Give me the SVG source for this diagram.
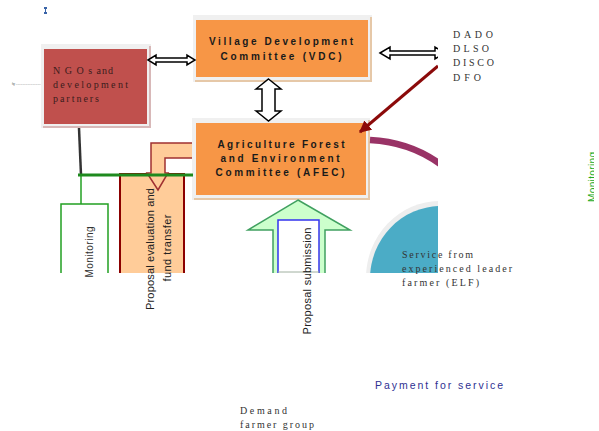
<svg xmlns="http://www.w3.org/2000/svg" width="599" height="431" viewBox="0 0 599 431">
<style>
.sans{font-family:"Liberation Sans",Arial,sans-serif}
.serif{font-family:"Liberation Serif","Times New Roman",serif}
.boxt{font-family:"Liberation Sans",Arial,sans-serif;font-weight:bold;font-size:10px;fill:#1a1a1a;text-anchor:middle}
.st{font-family:"Liberation Serif","Times New Roman",serif;font-size:10px;fill:#333}
.dbl{fill:#fff;stroke:#000;stroke-width:1.5;stroke-linejoin:miter}
.rot{font-family:"Liberation Sans",Arial,sans-serif;font-size:11px;fill:#222;text-anchor:middle}
</style>
<defs>
<clipPath id="clipR"><rect x="0" y="0" width="438" height="431"/></clipPath>
<clipPath id="clipB"><rect x="0" y="0" width="599" height="273"/></clipPath>
<clipPath id="clipRB"><rect x="0" y="0" width="438" height="273"/></clipPath>
<clipPath id="clipEdge"><rect x="0" y="0" width="594" height="431"/></clipPath>
<marker id="redHead" viewBox="0 0 10 10" refX="9" refY="5" markerWidth="4" markerHeight="4" orient="auto" markerUnits="strokeWidth">
<path d="M0,0 L10,5 L0,10 z" fill="#8B0A0A"/>
</marker>
</defs>
<rect width="599" height="431" fill="#fff"/>

<g id="icon">
<path d="M44,7 h3 v2 h-1 v3 h1 v2 h-3 v-2 h1 v-3 h-1 z" fill="#3a64a8"/>
</g>

<g id="caption-tiny">
<text x="12" y="84.5" class="sans" font-size="3.5" fill="#444" textLength="29" lengthAdjust="spacingAndGlyphs">fig: ------------------------------</text>
</g>

<g id="node-ngo">
<rect x="41" y="44" width="110" height="84" fill="#f0f0f0"/>
<rect x="149" y="46" width="2" height="82" fill="#d8b8b8"/>
<rect x="43" y="126" width="108" height="2" fill="#d8b8b8"/>
<rect x="44" y="49" width="103" height="75" fill="#C0504D"/>
<text x="53" y="74" class="st" style="fill:#3a1c1c" textLength="60" lengthAdjust="spacing">N G O s and</text>
<text x="53" y="88" class="st" style="fill:#3a1c1c" textLength="75" lengthAdjust="spacing">development</text>
<text x="53" y="102" class="st" style="fill:#3a1c1c" textLength="46" lengthAdjust="spacing">partners</text>
</g>

<g id="node-vdc">
<rect x="193" y="15" width="179" height="67" fill="#f0f0f0"/>
<rect x="370" y="17" width="2" height="65" fill="#e6c8a8"/>
<rect x="195" y="80" width="177" height="2" fill="#e6c8a8"/>
<rect x="196" y="20" width="172" height="57" fill="#F79646"/>
<text x="281" y="45" class="boxt" textLength="144" lengthAdjust="spacing">Village Development</text>
<text x="281" y="60" class="boxt" textLength="121" lengthAdjust="spacing">Committee (VDC)</text>
</g>

<g id="node-afec">
<rect x="192" y="118" width="178" height="82" fill="#f0f0f0"/>
<rect x="368" y="120" width="2" height="80" fill="#e6c8a8"/>
<rect x="194" y="198" width="176" height="2" fill="#e6c8a8"/>
<rect x="196" y="123" width="170" height="72" fill="#F79646"/>
<text x="281" y="148" class="boxt" textLength="127" lengthAdjust="spacing">Agriculture Forest</text>
<text x="280" y="162" class="boxt" textLength="119" lengthAdjust="spacing">and Environment</text>
<text x="280" y="176" class="boxt" textLength="129" lengthAdjust="spacing">Committee (AFEC)</text>
</g>

<g id="node-district">
<text x="453" y="38" class="st" textLength="40" lengthAdjust="spacing">DADO</text>
<text x="453" y="52" class="st" textLength="36" lengthAdjust="spacing">DLSO</text>
<text x="453" y="66" class="st" textLength="41" lengthAdjust="spacing">DISCO</text>
<text x="453" y="81" class="st" textLength="28" lengthAdjust="spacing">DFO</text>
</g>

<g id="node-elf">
<g clip-path="url(#clipRB)">
<ellipse cx="440" cy="278" rx="74" ry="77" fill="#eeeeee"/>
<ellipse cx="441" cy="279" rx="71" ry="73" fill="#4BACC6"/>
</g>
<text x="402" y="258" class="st" textLength="71" lengthAdjust="spacing">Service from</text>
<text x="402" y="272" class="st" textLength="110" lengthAdjust="spacing">experienced leader</text>
<text x="402" y="286" class="st" textLength="77" lengthAdjust="spacing">farmer (ELF)</text>
</g>

<g id="node-monitoring">
<path d="M61,273 V204 H108 V273" fill="none" stroke="#22a022" stroke-width="1.5" clip-path="url(#clipB)"/>
<text transform="translate(93,252) rotate(-90)" class="rot" style="fill:#333;font-size:10px" textLength="51" lengthAdjust="spacing">Monitoring</text>
</g>

<g id="node-proposal-evaluation">
<path d="M120,273 V174 H184 V273" fill="#FFCC99" stroke="#8B0000" stroke-width="2" clip-path="url(#clipB)"/>
<path d="M192,143 H151 V173 H147 L158,190 L168,173 H165 V158 H192" fill="#FFCC99" stroke="#A03030" stroke-width="1.5"/>
<text transform="translate(154,249) rotate(-90)" class="rot" textLength="122" lengthAdjust="spacing">Proposal evaluation and</text>
<text transform="translate(171,248) rotate(-90)" class="rot" textLength="67" lengthAdjust="spacing">fund transfer</text>
</g>

<g id="node-proposal-submission">
<g clip-path="url(#clipB)">
<polygon points="298,200 350,230 325,230 325,285 273,285 273,230 248,230" fill="#CCFFCC" stroke="#40A060" stroke-width="1.5"/>
<rect x="278" y="220" width="41" height="60" fill="#fff" stroke="#3333ee" stroke-width="1.5"/>
</g>
<line x1="278" y1="272" x2="319" y2="272" stroke="#a0b0a0" stroke-width="1"/>
<text transform="translate(311,281) rotate(-90)" class="rot" textLength="107" lengthAdjust="spacing">Proposal submission</text>
</g>

<g id="label-monitoring-right" clip-path="url(#clipEdge)">
<text transform="translate(596,177) rotate(-90)" class="rot" style="fill:#22aa22;font-size:10px" textLength="50" lengthAdjust="spacing">Monitoring</text>
</g>

<g id="label-payment">
<text x="375" y="389" class="sans" font-size="10.5" fill="#2e3192" textLength="128" lengthAdjust="spacing">Payment for service</text>
</g>

<g id="node-demand">
<text x="240" y="414" class="st" textLength="47" lengthAdjust="spacing">Demand</text>
<text x="240" y="428" class="st" textLength="74" lengthAdjust="spacing">farmer group</text>
</g>

<g id="connectors">
<polygon class="dbl" points="148,60 156,55 156,58 187,58 187,55 195,60 187,65 187,62 156,62 156,65"/>
<g clip-path="url(#clipR)">
<polygon class="dbl" points="380,53 390,47 390,51 435,51 435,47 445,53 435,59 435,55 390,55 390,59"/>
<path d="M370,140 Q410,142 440,164" fill="none" stroke="#993366" stroke-width="6.5"/>
<line x1="438" y1="66" x2="360" y2="132" stroke="#8B0A0A" stroke-width="3" marker-end="url(#redHead)"/>
</g>
<polygon class="dbl" points="268.5,79 281,89 275,89 275,111 281,111 268.5,121 256,111 262,111 262,89 256,89"/>
<line x1="79" y1="128" x2="81" y2="175" stroke="#333" stroke-width="2.5"/>
<line x1="81" y1="175" x2="81" y2="204" stroke="#22a022" stroke-width="1.5"/>
<line x1="78" y1="175" x2="193" y2="175" stroke="#1e8a1e" stroke-width="3"/>
</g>
</svg>
